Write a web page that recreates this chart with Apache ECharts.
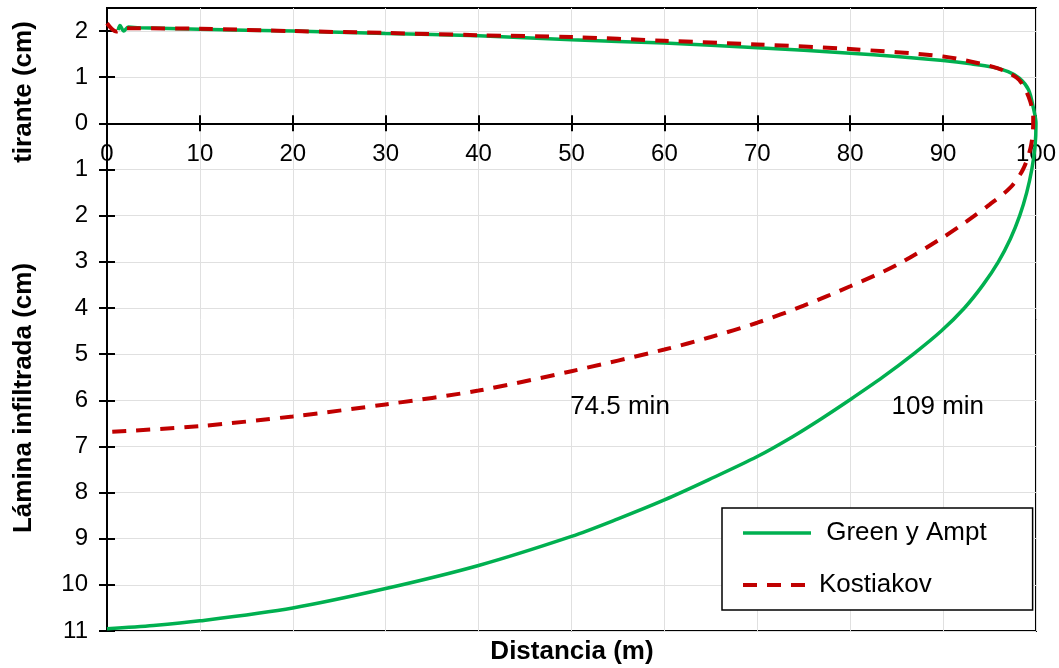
<!DOCTYPE html>
<html>
<head>
<meta charset="utf-8">
<script src="https://cdn.jsdelivr.net/npm/echarts@6/dist/echarts.min.js"></script>
<style>html,body{margin:0;padding:0;background:#fff}#c{width:1059px;height:668px}</style>
</head>
<body>
<div id="c"></div>
<script>
// ---- data (x: distancia m, y: cm) ----
// Green y Ampt: tirante (surface depth, above ground)
const gaTiranteX = [1.2, 1.4, 1.8, 2.3, 3.5, 10, 20, 30, 40, 50, 60, 70, 80, 85, 90, 93, 95.3, 97, 98.2, 99.2, 99.7, 100];
const gaTiranteY = [2.02, 2.12, 2.0, 2.09, 2.07, 2.04, 2.0, 1.95, 1.9, 1.81, 1.74, 1.64, 1.52, 1.45, 1.36, 1.29, 1.22, 1.12, 0.98, 0.73, 0.35, 0.0];
// Green y Ampt: lámina infiltrada (below ground)
const gaInfilX = [100, 99.9, 99.55, 99.0, 98.25, 97.25, 95.95, 94.3, 92.3, 89.8, 86.8, 83.5, 79.9, 76.9, 73.8, 70, 64.8, 60, 55, 50, 40, 30, 20, 10, 5, 0];
const gaInfilY = [0.0, 0.5, 1.0, 1.5, 2.0, 2.5, 3.0, 3.5, 4.0, 4.5, 5.0, 5.5, 6.0, 6.4, 6.79, 7.22, 7.72, 8.16, 8.57, 8.95, 9.58, 10.08, 10.5, 10.78, 10.88, 10.95];
// Kostiakov: tirante
const kTiranteX = [0, 0.5, 1.0, 1.6, 2.1, 3, 10, 20, 30, 40, 50, 60, 70, 80, 90, 95.3, 97, 98.2, 99.2, 99.7];
const kTiranteY = [2.17, 2.05, 1.99, 2.03, 2.06, 2.06, 2.05, 2.0, 1.96, 1.91, 1.87, 1.79, 1.71, 1.61, 1.45, 1.23, 1.1, 0.94, 0.58, 0.15];
// Kostiakov: lámina infiltrada
const kInfilX = [99.7, 99.45, 98.6, 97.2, 95, 92.5, 90, 85, 80, 75, 70, 65, 60, 50, 40, 30, 20, 10, 0];
const kInfilY = [0, 0.5, 1.0, 1.4, 1.76, 2.13, 2.47, 3.07, 3.53, 3.95, 4.32, 4.63, 4.9, 5.37, 5.79, 6.09, 6.35, 6.56, 6.69];
// annotations
const annoX = [49.8, 84.4];
const annoY = [6.15, 6.15];
const annoText = ['74.5 min', '109 min'];
// axis ticks
const yTicks = [-2, -1, 0, 1, 2, 3, 4, 5, 6, 7, 8, 9, 10, 11];
const seriesNames = [' Green y Ampt', 'Kostiakov'];

// build combined paths: tirante plotted as negative (above zero on inverted axis)
function build(tx, ty, ix, iy) {
  const out = [];
  tx.forEach((x, i) => out.push([x, -ty[i]]));
  ix.forEach((x, i) => out.push([x, iy[i]]));
  return out;
}
const gaData = build(gaTiranteX, gaTiranteY, gaInfilX, gaInfilY);
const kData = build(kTiranteX, kTiranteY, kInfilX, kInfilY);
const annoData = annoX.map((x, i) => [x, annoY[i], annoText[i]]);

const W = 1059, H = 668;
const G = {left: 107, right: 22, top: 8, bottom: 37};
const Y_MIN = -2.5, Y_MAX = 11;
const gridH = H - G.top - G.bottom;
const zeroY = G.top + gridH * (0 - Y_MIN) / (Y_MAX - Y_MIN);
const xOffset = -((H - G.bottom) - zeroY); // put x axis on the zero line (labels below it)

const GREEN = '#00B050', RED = '#C00000';
const greenLine = {color: GREEN, width: 3.5};
const redLine = {color: RED, width: 4, type: [14, 10]};

const FONT = '"Liberation Sans", Arial, sans-serif';
const chart = echarts.init(document.getElementById('c'), null, {renderer: 'canvas'});
chart.setOption({
  animation: false,
  backgroundColor: '#fff',
  grid: {left: G.left, right: G.right, top: G.top, bottom: G.bottom, show: true, borderColor: '#000', borderWidth: 2, backgroundColor: 'transparent'},
  xAxis: [{
    type: 'value', min: 0, max: 100, interval: 10, position: 'bottom', offset: xOffset,
    axisLine: {onZero: false, lineStyle: {color: '#000', width: 2}},
    axisTick: {show: true, inside: false, length: 8, lineStyle: {color: '#000', width: 2}},
    axisLabel: {fontSize: 24, fontFamily: FONT, color: '#000', margin: 19, showMinLabel: true, showMaxLabel: true},
    splitLine: {show: true, lineStyle: {color: '#e0e0e0', width: 1}}
  }, {
    type: 'value', min: 0, max: 100, interval: 10, position: 'bottom', offset: xOffset,
    axisLine: {onZero: false, show: false},
    axisTick: {show: true, inside: true, length: 8, lineStyle: {color: '#000', width: 2}},
    axisLabel: {show: false},
    splitLine: {show: false}
  }],
  yAxis: [{
    type: 'value', min: Y_MIN, max: Y_MAX, splitNumber: 13, inverse: true, position: 'left',
    axisLine: {show: true, onZero: false, lineStyle: {color: '#000', width: 2}},
    axisTick: {show: true, inside: false, length: 8, customValues: yTicks, lineStyle: {color: '#000', width: 2}},
    axisLabel: {fontSize: 24, fontFamily: FONT, color: '#000', margin: 19, customValues: yTicks,
      formatter: v => (Math.abs(v - Math.round(v)) < 1e-6 ? String(Math.abs(Math.round(v))) : '')},
    splitLine: {show: true, lineStyle: {color: '#e0e0e0', width: 1}}
  }, {
    type: 'value', min: Y_MIN, max: Y_MAX, splitNumber: 13, inverse: true, position: 'left',
    axisLine: {show: false, onZero: false},
    axisTick: {show: true, inside: true, length: 8, customValues: yTicks, lineStyle: {color: '#000', width: 2}},
    axisLabel: {show: false},
    splitLine: {show: false}
  }],
  legend: {
    orient: 'vertical', left: 722, top: 508,
    padding: [12, 46, 12, 19],
    itemWidth: 68, itemHeight: 14, itemGap: 26,
    borderColor: '#000', borderWidth: 1.5, backgroundColor: '#fff',
    itemStyle: {opacity: 0},
    textStyle: {fontSize: 26, fontFamily: FONT, color: '#000', lineHeight: 26, padding: [0, 0, 0, 3]},
    data: [
      {name: seriesNames[0], lineStyle: greenLine},
      {name: seriesNames[1], lineStyle: redLine}
    ]
  },
  series: [{
    name: seriesNames[0], type: 'line', data: gaData, symbol: 'none', smooth: 0.3,
    lineStyle: greenLine, itemStyle: {color: GREEN}, z: 3, clip: false
  }, {
    name: seriesNames[1], type: 'line', data: kData, symbol: 'none', smooth: 0.3,
    lineStyle: redLine, itemStyle: {color: RED}, z: 4, clip: false
  }, {
    name: 'anno', type: 'scatter', data: annoData, symbolSize: 1,
    itemStyle: {color: 'rgba(0,0,0,0)'},
    label: {show: true, position: 'right', distance: 0, formatter: p => p.value[2],
      fontSize: 26, fontFamily: FONT, color: '#000', opacity: 1},
    silent: true, z: 5
  }],
  graphic: [
    {type: 'text', x: 24, y: 92, rotation: Math.PI / 2,
     style: {text: 'tirante (cm)', fontSize: 26, fontWeight: 'bold', fontFamily: FONT, fill: '#000', align: 'center', verticalAlign: 'middle'}},
    {type: 'text', x: 24, y: 398, rotation: Math.PI / 2,
     style: {text: 'Lámina infiltrada (cm)', fontSize: 26, fontWeight: 'bold', fontFamily: FONT, fill: '#000', align: 'center', verticalAlign: 'middle'}},
    {type: 'text', x: 572, y: 652,
     style: {text: 'Distancia (m)', fontSize: 26, fontWeight: 'bold', fontFamily: FONT, fill: '#000', align: 'center', verticalAlign: 'middle'}}
  ]
});
</script>
</body>
</html>
